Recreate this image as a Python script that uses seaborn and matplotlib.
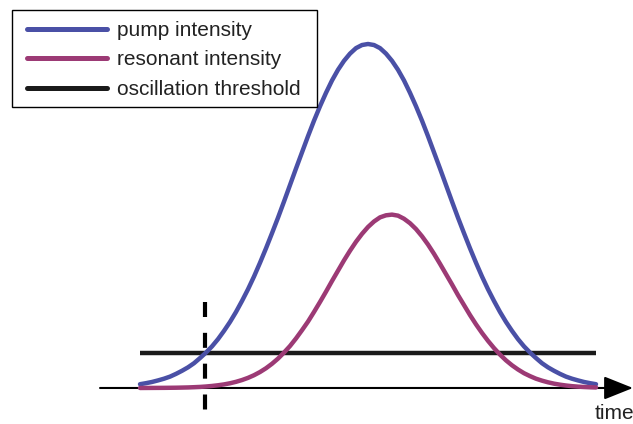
import numpy as np
import pandas as pd
import matplotlib
matplotlib.use("Agg")
import matplotlib.pyplot as plt
from matplotlib.patches import Rectangle
import seaborn as sns

# Time samples (arbitrary units, half-unit grid) and the two intensity
# envelopes in % of the pump peak
time = np.arange(0, 38.5, 0.5)
pump_intensity = [
    1.1, 1.4, 1.75, 2.2, 2.7, 3.3, 4.1, 5.0, 6.0, 7.2,
    8.7, 10.3, 12.1, 14.2, 16.6, 19.2, 22.1, 25.3, 28.7, 32.4,
    36.4, 40.6, 45.0, 49.5, 54.2, 59.0, 63.8, 68.5, 73.2, 77.7,
    81.9, 85.8, 89.4, 92.5, 95.1, 97.2, 98.8, 99.7, 100.0,
    99.7, 98.8, 97.2, 95.1, 92.5, 89.4, 85.8, 81.9, 77.7, 73.2,
    68.5, 63.8, 59.0, 54.2, 49.5, 45.0, 40.6, 36.4, 32.4, 28.7,
    25.3, 22.1, 19.2, 16.6, 14.2, 12.1, 10.3, 8.7, 7.2, 6.0,
    5.0, 4.1, 3.3, 2.7, 2.2, 1.75, 1.4, 1.1,
]
resonant_intensity = [
    0.0, 0.01, 0.02, 0.03, 0.04, 0.06, 0.08, 0.12, 0.16, 0.23,
    0.31, 0.43, 0.59, 0.79, 1.04, 1.37, 1.79, 2.31, 2.94, 3.71,
    4.64, 5.74, 7.04, 8.54, 10.3, 12.2, 14.4, 16.8, 19.3, 22.1,
    25.0, 28.0, 31.1, 34.1, 37.1, 39.9, 42.5, 44.8, 46.8, 48.4,
    49.6, 50.2, 50.4, 50.1, 49.2, 47.9, 46.2, 44.1, 41.7, 39.0,
    36.1, 33.1, 30.1, 27.0, 24.1, 21.2, 18.5, 16.0, 13.7, 11.6,
    9.7, 8.03, 6.6, 5.37, 4.3, 3.45, 2.7, 2.13, 1.65, 1.26,
    0.96, 0.72, 0.53, 0.39, 0.29, 0.21, 0.15,
]
threshold = 10.2
threshold_start, threshold_end = 0, 38
onset_time = 5.45  # pump first reaches threshold

labels = ["pump intensity", "resonant intensity", "oscillation threshold"]
colors = ["#4a50a6", "#9c3a75", "#1a1a1a"]

sns.set_theme(style="white")
plt.rcParams["font.family"] = ["Liberation Sans", "DejaVu Sans"]

n = len(time)
df = pd.DataFrame({
    "time": np.concatenate([time, time]),
    "intensity": pump_intensity + resonant_intensity,
    "series": [labels[0]] * n + [labels[1]] * n,
})

fig = plt.figure(figsize=(6.33, 4.24), dpi=100)
ax = fig.add_axes([0, 0, 1, 1])
ax.set_xlim(-11.667, 41.083)
ax.set_ylim(-10.47, 112.79)
ax.axis("off")

sns.lineplot(data=df, x="time", y="intensity", hue="series",
             palette={labels[0]: colors[0], labels[1]: colors[1]},
             linewidth=3.2, ax=ax, legend=False, zorder=3)

# oscillation threshold
ax.plot([threshold_start, threshold_end], [threshold, threshold],
        color=colors[2], lw=3.2, solid_capstyle="butt", zorder=2)

# onset marker
ax.plot([onset_time, onset_time], [25.0, -7.3], color="black", lw=3.0,
        dashes=(3.6, 3.8), dash_capstyle="butt", zorder=4)

# time axis with arrow
ax.annotate("", xy=(41.08, 0), xytext=(-3.33, 0),
            arrowprops=dict(arrowstyle="-|>,head_length=18,head_width=7.2",
                            mutation_scale=1, lw=1.5, color="black",
                            shrinkA=0, shrinkB=0), zorder=1)
ax.text(37.9, -4.7, "time", fontsize=15, ha="left", va="top", color="#222222")

# legend with a plain rectangular frame
frame = Rectangle((12 / 633, 1 - 107 / 424), 305 / 633, 97 / 424,
                  transform=fig.transFigure, facecolor="white",
                  edgecolor="black", linewidth=1.0, zorder=5, clip_on=False)
ax.add_artist(frame)
handles = [plt.Line2D([], [], color=c, lw=3.6) for c in colors]
leg = ax.legend(handles, labels, loc="upper left",
                bbox_to_anchor=(27 / 633, 1 - 21 / 424), borderaxespad=0,
                fontsize=15, handlelength=3.85, handletextpad=0.45,
                labelspacing=0.5, borderpad=0, frameon=False)
leg.set_zorder(6)
for t in leg.get_texts():
    t.set_color("#222222")

fig.savefig("out.png", dpi=100)
